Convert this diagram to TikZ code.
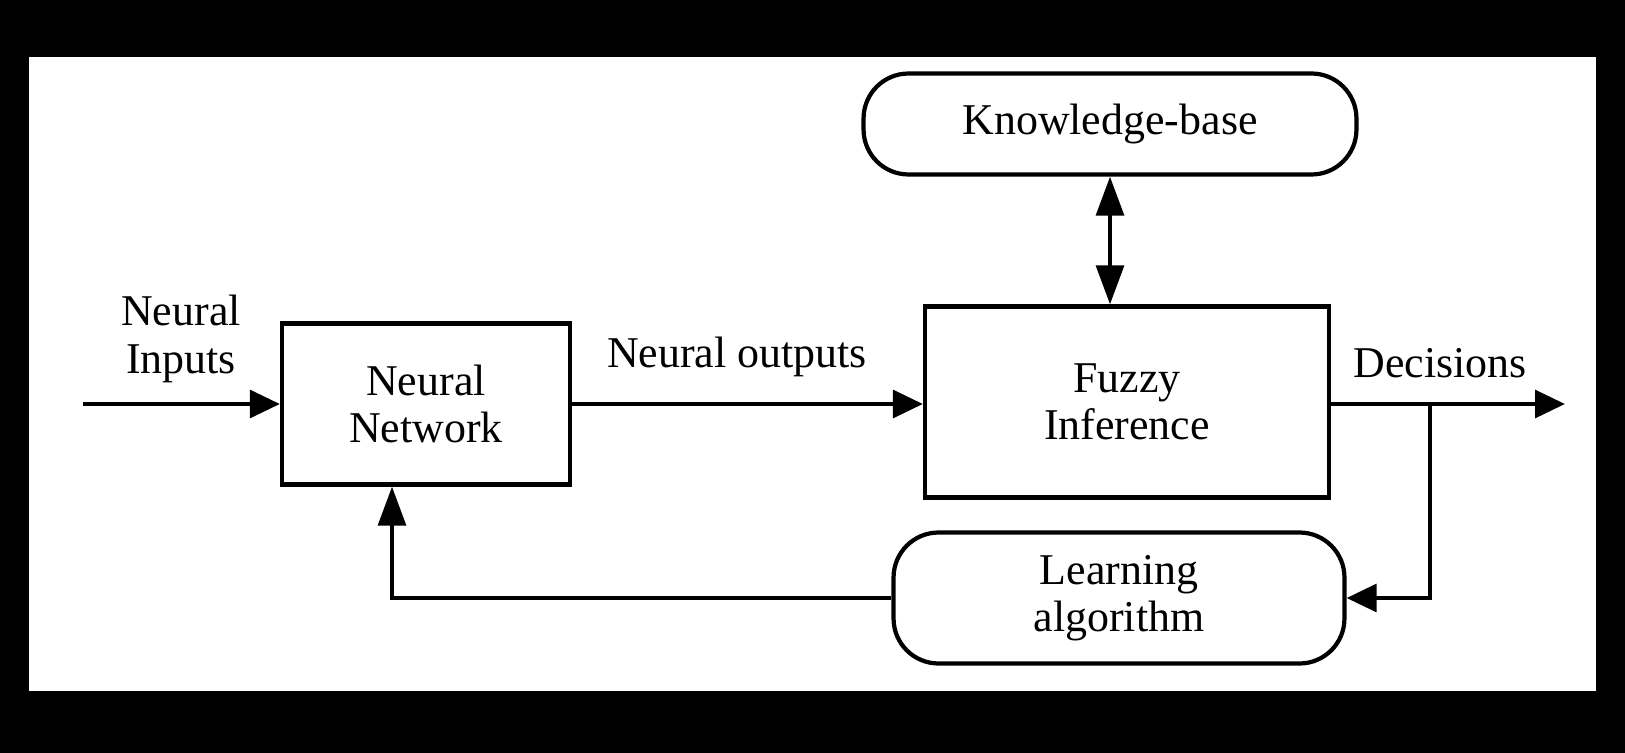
\documentclass[tikz,border=0pt]{standalone}
\usepackage{fontspec}
\setmainfont{Liberation Serif}
\usetikzlibrary{arrows.meta}

\tikzset{
    block/.style={draw, line width=2.4pt, inner sep=0pt, align=center},
    roundblock/.style={block, rounded corners=0.9cm},
    label/.style={align=center, inner sep=0pt},
    flow/.style={line width=2.6pt, -{Triangle[length=0.6cm, width=0.55cm]}},
    upflow/.style={line width=2.6pt, -{Triangle[length=0.78cm, width=0.55cm]}},
}

\begin{document}
\begin{tikzpicture}[x=0.02cm, y=-0.02cm, font=\fontsize{25}{27}\selectfont]
        \useasboundingbox (0, 0) rectangle (1625, 753);
        \fill[black] (0, 0) rectangle (1625, 753);
        \fill[white] (29, 57) rectangle (1596, 691);

        \node[block, minimum width=5.76cm, minimum height=3.22cm] (nn) at (426, 404) {Neural\\Network};
        \node[block, minimum width=8.08cm, minimum height=3.82cm] (fi) at (1127, 402) {Fuzzy\\Inference};
        \node[roundblock, minimum width=9.86cm, minimum height=2.02cm] (kb) at (1110, 124) {Knowledge-base};
        \node[roundblock, minimum width=9.02cm, minimum height=2.62cm] (la) at (1119, 598) {Learning\\algorithm};

        \coordinate (in) at (83, 404);
        \coordinate (out) at (1565, 404);
        \coordinate (split) at (1430, 404);
        \coordinate (back) at (392, 598);

        \node[label] (inlabel) at (181, 339) {Neural\\Inputs};
        \node[label] (nnlabel) at (737, 357) {Neural outputs};
        \node[label] (declabel) at (1440, 363) {Decisions};

        \draw[flow] (in) -- (nn.west);
        \draw[flow] (nn.east) -- (fi.west |- nn.east);
        \draw[flow] (fi.east |- out) -- (out);
        \draw[upflow, {Triangle[length=0.78cm, width=0.55cm]}-{Triangle[length=0.78cm, width=0.55cm]}] (kb.south) -- (kb.south |- fi.north);
        \draw[flow] (split) |- (la.east);
        \draw[upflow] (la.west) -- (back) -- (back |- nn.south);
    \end{tikzpicture}
\end{document}
